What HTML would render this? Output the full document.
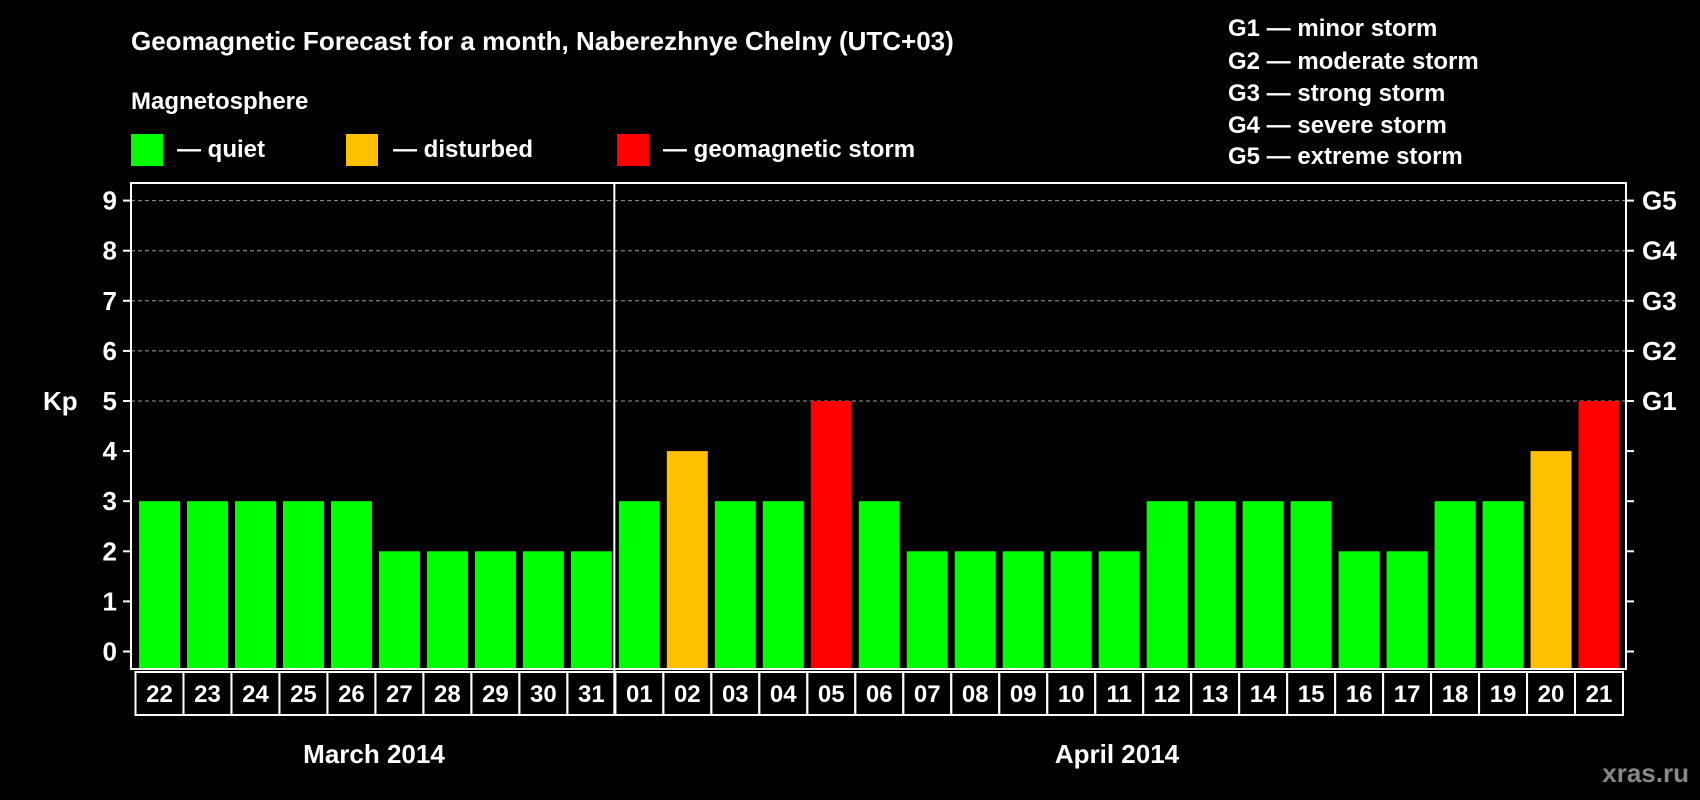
<!DOCTYPE html>
<html><head><meta charset="utf-8"><style>
html,body{margin:0;padding:0;background:#000;}
svg{display:block;font-family:"Liberation Sans",Arial,sans-serif;font-weight:bold;}
</style></head><body>
<svg id="c" width="1700" height="800" viewBox="0 0 1700 800">
<text x="131" y="50" fill="#fff" font-size="26">Geomagnetic Forecast for a month, Naberezhnye Chelny (UTC+03)</text>
<text x="131" y="109" fill="#fff" font-size="24">Magnetosphere</text>
<g><rect x="131" y="134" width="32" height="32" fill="#00ff00"/><text x="177" y="157" fill="#fff" font-size="24">— quiet</text></g>
<g><rect x="346" y="134" width="32" height="32" fill="#ffc000"/><text x="393" y="157" fill="#fff" font-size="24">— disturbed</text></g>
<g><rect x="617" y="134" width="32" height="32" fill="#ff0000"/><text x="663" y="157" fill="#fff" font-size="24">— geomagnetic storm</text></g>
<g fill="#fff" font-size="24">
<text x="1228" y="36">G1 — minor storm</text>
<text x="1228" y="69">G2 — moderate storm</text>
<text x="1228" y="101">G3 — strong storm</text>
<text x="1228" y="133">G4 — severe storm</text>
<text x="1228" y="164">G5 — extreme storm</text>
</g>
<text x="43" y="410" fill="#fff" font-size="26">Kp</text>
<text x="374" y="763" fill="#fff" font-size="26" text-anchor="middle">March 2014</text>
<text x="1117" y="763" fill="#fff" font-size="26" text-anchor="middle">April 2014</text>
<text x="1689" y="782" fill="#888" font-size="26" text-anchor="end">xras.ru</text>
<g id="plot"></g>
</svg>
<script>
const days = ["22","23","24","25","26","27","28","29","30","31","01","02","03","04","05","06","07","08","09","10","11","12","13","14","15","16","17","18","19","20","21"];
const kpValues = [3,3,3,3,3,2,2,2,2,2,3,4,3,3,5,3,2,2,2,2,2,3,3,3,3,2,2,3,3,4,5];
const yTicks = [0,1,2,3,4,5,6,7,8,9];
const gLabels = ["G1","G2","G3","G4","G5"];
const monthBreakIndex = 10;

const NS = "http://www.w3.org/2000/svg";
const plot = document.getElementById('plot');
const L = 131, R = 1626, T = 183, B = 669;
const y0 = 651.5, unit = 50.1;
const bx0 = 135.5, bx1 = 1623;
const slot = (bx1 - bx0) / days.length;
function y(v){ return y0 - v * unit; }
function x(i){ return bx0 + i * slot; }
function mk(tag, attrs){ const e = document.createElementNS(NS, tag); for (const k in attrs) e.setAttribute(k, attrs[k]); plot.appendChild(e); return e; }
function color(v){ return v >= 5 ? "#ff0000" : (v >= 4 ? "#ffc000" : "#00ff00"); }

yTicks.forEach(t => {
  if (t >= 5) {
    const g = mk('line', {x1: L, x2: R, y1: y(t), y2: y(t), stroke: "#999", "stroke-width": 1, "stroke-dasharray": "4,3"});
    
    
  }
  const tk = mk('line', {x1: L - 8, x2: L, y1: y(t), y2: y(t), stroke: "#fff", "stroke-width": 2});
  
  
  const tk2 = mk('line', {x1: R, x2: R + 8, y1: y(t), y2: y(t), stroke: "#fff", "stroke-width": 2});
  
  
  const lb = mk('text', {x: 117, y: y(t) + 9, fill: "#fff", "font-size": 26, "text-anchor": "end"});
  lb.textContent = t;
  
  
});
gLabels.forEach((g, i) => {
  const lb = mk('text', {x: 1642, y: y(5 + i) + 9, fill: "#fff", "font-size": 26});
  lb.textContent = g;
  
  
});
kpValues.forEach((v, i) => {
  const r = mk('rect', {x: x(i) + 3.5, y: y(v), width: slot - 7, height: B - y(v), fill: color(v)});
  
  
});
const frame = mk('rect', {x: L, y: T, width: R - L, height: B - T, fill: "none", stroke: "#fff", "stroke-width": 2});


const div = mk('line', {x1: x(monthBreakIndex) - 1, x2: x(monthBreakIndex) - 1, y1: T, y2: 715, stroke: "#fff", "stroke-width": 2});


days.forEach((d, i) => {
  const c = mk('rect', {x: x(i), y: 672, width: slot, height: 43, fill: "none", stroke: "#fff", "stroke-width": 2});
  
  
  const t = mk('text', {x: x(i) + slot / 2, y: 702, fill: "#fff", "font-size": 24, "text-anchor": "middle"});
  t.textContent = d;
  
  
});
</script>
</body></html>
